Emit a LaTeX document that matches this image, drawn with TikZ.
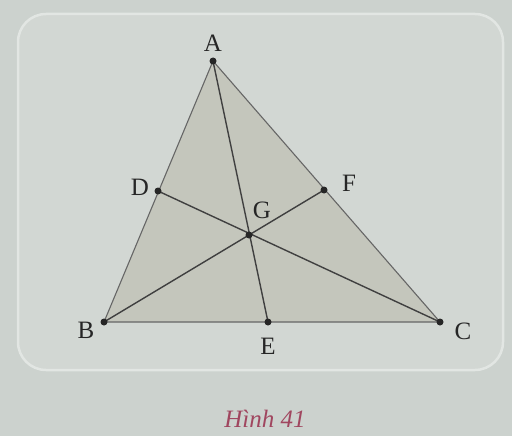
\documentclass[tikz,border=0pt]{standalone}
\usepackage{fontspec}
\setmainfont{Liberation Serif}
\definecolor{bgc}{RGB}{204,210,206}
\definecolor{boxc}{RGB}{210,215,211}
\definecolor{boxb}{RGB}{226,230,227}
\definecolor{tric}{RGB}{196,198,188}
\definecolor{capc}{RGB}{160,70,95}
\begin{document}
\begin{tikzpicture}[x=1pt,y=-1pt,
  seg/.style={draw=black!75,line width=1.4pt},
  side/.style={draw=black!60,line width=1.1pt},
  pt/.style={circle,fill=black!85,inner sep=0pt,minimum size=7pt},
  lab/.style={font=\fontsize{25}{29}\selectfont,text=black!85,inner sep=0pt}]
\path[use as bounding box,fill=bgc] (0,0) rectangle (512,436);
\draw[line width=2.5pt,draw=boxb,fill=boxc,rounded corners=28pt] (18,14) rectangle (503,370);
\coordinate (A) at (213,61);
\coordinate (B) at (104,322);
\coordinate (C) at (440,322);
\coordinate (D) at (158,191);
\coordinate (E) at (268,322);
\coordinate (F) at (324,190);
\coordinate (G) at (249,235);
\fill[tric] (A) -- (B) -- (C) -- cycle;
\draw[side] (A) -- (B) -- (C) -- cycle;
\draw[seg] (A) -- (E);
\draw[seg] (B) -- (F);
\draw[seg] (C) -- (D);
\foreach \p in {A,B,C,D,E,F,G} \node[pt] (n\p) at (\p) {};
\node[lab] (lA) at (213,43) {A};
\node[lab] (lB) at (86,330) {B};
\node[lab] (lC) at (463,331) {C};
\node[lab] (lD) at (140,187) {D};
\node[lab] (lE) at (268,346) {E};
\node[lab] (lF) at (349,183) {F};
\node[lab] (lG) at (262,210) {G};
\node[font=\fontsize{25}{29}\selectfont\itshape,text=capc,inner sep=0pt] (cap) at (265,419) {Hình 41};
\end{tikzpicture}
\end{document}
